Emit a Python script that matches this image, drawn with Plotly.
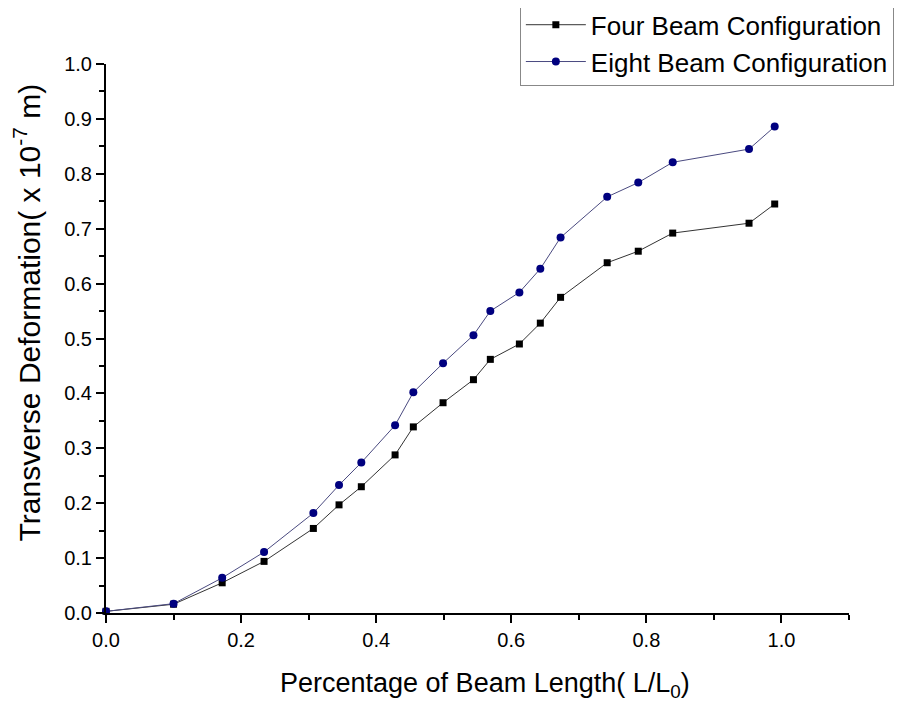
import plotly.graph_objects as go

# data
length_ratio = [0.0, 0.10, 0.172, 0.234, 0.307, 0.345, 0.378, 0.428, 0.455, 0.499,
                0.544, 0.569, 0.612, 0.643, 0.673, 0.742, 0.788, 0.839, 0.952, 0.990]
four_beam = [0.003, 0.016, 0.055, 0.094, 0.154, 0.197, 0.230, 0.288, 0.339, 0.383,
             0.425, 0.462, 0.490, 0.528, 0.575, 0.638, 0.659, 0.692, 0.710, 0.745]
eight_beam = [0.003, 0.017, 0.064, 0.111, 0.182, 0.233, 0.274, 0.342, 0.402, 0.455,
              0.506, 0.550, 0.584, 0.627, 0.684, 0.758, 0.784, 0.821, 0.845, 0.886]

fig = go.Figure()

fig.add_trace(go.Scatter(
    x=length_ratio, y=four_beam,
    mode='lines+markers',
    name='Four Beam Configuration',
    line=dict(color='#333333', width=1),
    marker=dict(symbol='square', size=7, color='black'),
    cliponaxis=False
))

fig.add_trace(go.Scatter(
    x=length_ratio, y=eight_beam,
    mode='lines+markers',
    name='Eight Beam Configuration',
    line=dict(color='#4a4a80', width=1),
    marker=dict(symbol='circle', size=8, color='#00007f'),
    cliponaxis=False
))

axis_font = dict(family='Arial, Liberation Sans, sans-serif', size=20, color='black')

fig.update_layout(
    width=906, height=706,
    paper_bgcolor='white',
    plot_bgcolor='white',
    margin=dict(l=98, r=65, t=56, b=101, autoexpand=False),
    font=dict(family='Arial, Liberation Sans, sans-serif', color='black'),
    xaxis=dict(
        range=[0, 1.1], tick0=0, dtick=0.2, tickformat='.1f',
        showgrid=False, zeroline=False, automargin=False,
        showline=True, linecolor='black', linewidth=2,
        ticks='outside', ticklen=8, tickwidth=2, tickcolor='black',
        minor=dict(dtick=0.1, ticks='outside', ticklen=5, tickwidth=2, tickcolor='black'),
        tickfont=axis_font,
    ),
    yaxis=dict(
        range=[0, 1.0], tick0=0, dtick=0.1, tickformat='.1f',
        showgrid=False, zeroline=False, automargin=False,
        showline=True, linecolor='black', linewidth=2,
        ticks='outside', ticklen=8, tickwidth=2, tickcolor='black',
        minor=dict(dtick=0.05, ticks='outside', ticklen=5, tickwidth=2, tickcolor='black'),
        tickfont=axis_font,
    ),
    legend=dict(
        x=0.557, y=1.116, xanchor='left', yanchor='top',
        bgcolor='white', bordercolor='#888888', borderwidth=1,
        font=dict(size=26, color='black'),
        itemwidth=60, tracegroupgap=0,
    ),
    showlegend=True,
)

# axis titles as annotations so they sit where the reference has them
fig.add_annotation(
    text='Percentage of Beam Length( L/L<sub>0</sub>)',
    xref='paper', yref='paper', x=0.51, y=-0.131,
    xanchor='center', yanchor='middle', showarrow=False,
    font=dict(size=27)
)
fig.add_annotation(
    text='Transverse Deformation( x 10<sup>-7</sup> m)',
    xref='paper', yref='paper', x=-0.106, y=0.548,
    xanchor='center', yanchor='middle', showarrow=False,
    textangle=-90, font=dict(size=30)
)

fig.write_html("out.html")
